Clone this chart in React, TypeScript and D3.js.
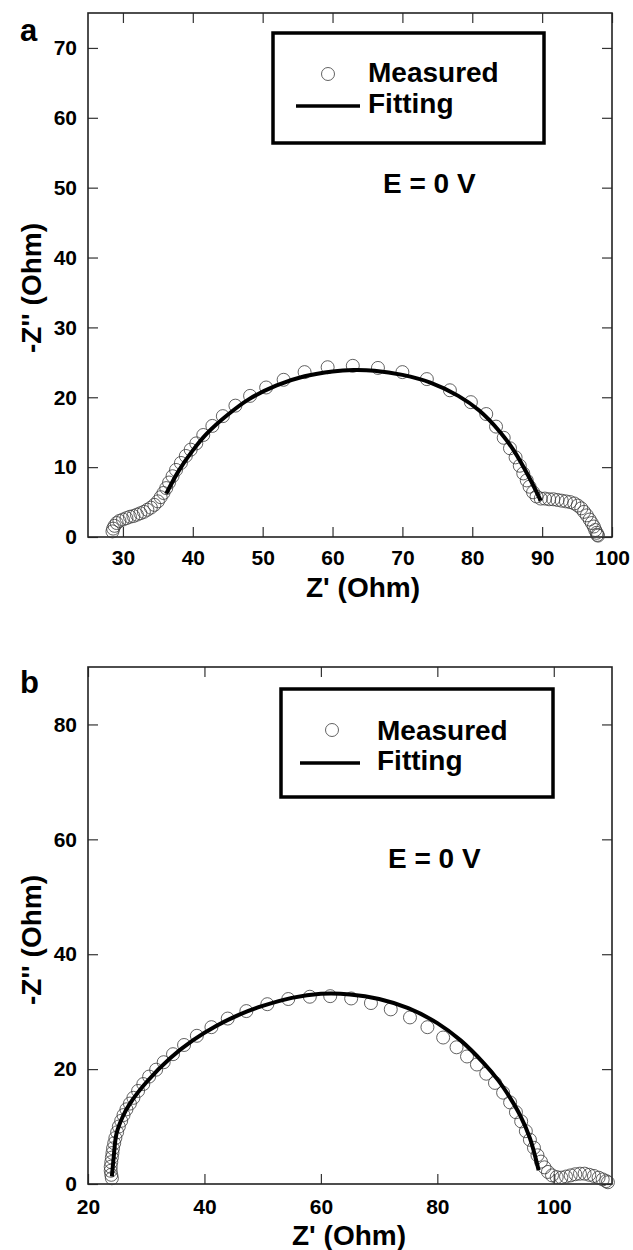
import { useRef, useEffect } from "react";
import * as d3 from "d3";

// Nyquist data: [Z' (Ohm), -Z'' (Ohm)]
const measuredA: [number, number][] = [
  [28.5, 0.8], [28.6, 1.2], [28.8, 1.6], [29.1, 2.0], [29.5, 2.3], [30, 2.5], [30.5, 2.7], [31, 2.9],
  [31.5, 3.0], [32, 3.2], [32.5, 3.4], [33, 3.6], [33.5, 3.9], [34, 4.2], [34.5, 4.6], [35, 5.1],
  [35.4, 5.7], [35.8, 6.3], [36.2, 7.0], [36.6, 7.8], [37.1, 8.7], [37.6, 9.6], [38.3, 10.6], [39, 11.6],
  [39.7, 12.5], [40.5, 13.4], [41.5, 14.6], [42.8, 15.9], [44.3, 17.3], [46.1, 18.8], [48.2, 20.2],
  [50.5, 21.4], [53, 22.5], [56, 23.6], [59.3, 24.3], [62.9, 24.5], [66.5, 24.2], [70, 23.6],
  [73.5, 22.6], [76.8, 21.0], [79.8, 19.3], [82, 17.6], [83.4, 15.8], [84.5, 14.2], [85.4, 12.7],
  [86.2, 11.4], [86.8, 10.2], [87.3, 9.1], [87.8, 8.1], [88.2, 7.2], [88.7, 6.4], [89.2, 5.8],
  [89.8, 5.5], [90.4, 5.5], [91, 5.4], [91.6, 5.4], [92.2, 5.3], [92.8, 5.2], [93.4, 5.1], [94, 5.0],
  [94.6, 4.8], [95.1, 4.5], [95.6, 4.1], [96, 3.6], [96.4, 3.1], [96.8, 2.5], [97.1, 2.0], [97.4, 1.5],
  [97.6, 1.0], [97.8, 0.6], [97.9, 0.3], [98.0, 0.2],
];

const fitA: [number, number][] = [
  [36.2, 6.2], [38, 9.5], [40, 12.4], [42, 14.8], [45, 17.5], [48, 19.7], [52, 21.7], [56, 23.0],
  [60, 23.7], [63, 23.9], [66, 23.8], [70, 23.2], [74, 22.1], [78, 20.2], [81, 18.1], [84, 15.0],
  [86, 12.3], [88, 8.8], [89.8, 5.2],
];

const measuredB: [number, number][] = [
  [24.1, 1.0], [24.0, 1.6], [23.9, 2.3], [23.9, 3.0], [24.0, 3.8], [24.1, 4.6], [24.2, 5.4], [24.3, 6.2],
  [24.5, 7.1], [24.7, 8.0], [25.0, 9.0], [25.3, 10.0], [25.7, 11.0], [26.1, 12.0], [26.6, 13.0],
  [27.2, 14.0], [27.8, 15.0], [28.6, 16.2], [29.5, 17.4], [30.5, 18.7], [31.7, 19.9], [33, 21.2],
  [34.6, 22.6], [36.5, 24.2], [38.7, 25.8], [41.2, 27.3], [44, 28.8], [47.2, 30.1], [50.8, 31.3],
  [54.4, 32.2], [58.1, 32.6], [61.6, 32.7], [65.2, 32.3], [68.6, 31.5], [72, 30.4], [75.3, 29.0],
  [78.3, 27.3], [81, 25.5], [83.3, 23.8], [85.1, 22.2], [86.8, 20.8], [88.4, 19.2], [89.9, 17.6],
  [91.3, 15.9], [92.5, 14.2], [93.5, 12.5], [94.4, 10.9], [95.2, 9.2], [95.9, 7.7], [96.6, 6.3],
  [97.2, 5.0], [97.8, 3.9], [98.4, 2.9], [99, 2.1], [99.7, 1.5], [100.5, 1.2], [101.3, 1.1],
  [102.1, 1.3], [102.9, 1.5], [103.7, 1.7], [104.5, 1.8], [105.3, 1.8], [106.1, 1.6], [106.9, 1.4],
  [107.7, 1.1], [108.4, 0.8], [109.0, 0.5], [109.3, 0.3],
];

const fitB: [number, number][] = [
  [24.1, 1.3], [24.4, 4.5], [24.9, 8.8], [26, 11.8], [27.2, 14], [30.1, 17.8], [34.1, 21.9], [38, 25],
  [42, 27.5], [46, 29.5], [50, 31], [55, 32.4], [60, 33.1], [65, 33.0], [70, 32.2], [75, 30.6],
  [80, 28.0], [84, 25.0], [88, 21.0], [90.5, 18.0], [92.5, 15.0], [94.2, 12.0], [95.9, 8.0], [97.4, 2.4],
];

const xTicksA = [30, 40, 50, 60, 70, 80, 90, 100];
const yTicksA = [0, 10, 20, 30, 40, 50, 60, 70];
const xTicksB = [20, 40, 60, 80, 100];
const yTicksB = [0, 20, 40, 60, 80];

const legendLabels = ["Measured", "Fitting"];
const potentialLabel = "E = 0 V";
const xTitle = "Z' (Ohm)";
const yTitle = "-Z'' (Ohm)";

const font = "'Liberation Sans', Arial, Helvetica, sans-serif";

function drawPanel(root: any, p: any) {
  const x = d3.scaleLinear().domain(p.xDomain).range([p.left, p.right]);
  const y = d3.scaleLinear().domain(p.yDomain).range([p.bottom, p.top]);
  const g = root.append("g");

  const styleAxis = (a: any) => {
    a.select(".domain").remove();
    a.selectAll(".tick line").attr("stroke", "#333").attr("stroke-width", 1.2);
    a.selectAll(".tick text")
      .attr("fill", "#000")
      .style("font-family", font)
      .style("font-size", "21px")
      .style("font-weight", "bold");
  };

  g.append("g")
    .attr("transform", `translate(0,${p.bottom})`)
    .call(d3.axisBottom(x).tickValues(p.xTicks).tickSizeInner(-10).tickSizeOuter(0).tickPadding(p.tickPad).tickFormat(d3.format("d")))
    .call(styleAxis);
  g.append("g")
    .attr("transform", `translate(0,${p.top})`)
    .call(d3.axisTop(x).tickValues(p.xTicks).tickSizeInner(-10).tickSizeOuter(0).tickFormat(() => ""))
    .call(styleAxis);
  g.append("g")
    .attr("transform", `translate(${p.left},0)`)
    .call(d3.axisLeft(y).tickValues(p.yTicks).tickSizeInner(-10).tickSizeOuter(0).tickPadding(11).tickFormat(d3.format("d")))
    .call(styleAxis);
  g.append("g")
    .attr("transform", `translate(${p.right},0)`)
    .call(d3.axisRight(y).tickValues(p.yTicks).tickSizeInner(-10).tickSizeOuter(0).tickFormat(() => ""))
    .call(styleAxis);

  g.append("rect")
    .attr("x", p.left)
    .attr("y", p.top)
    .attr("width", p.right - p.left)
    .attr("height", p.bottom - p.top)
    .attr("fill", "none")
    .attr("stroke", "#222")
    .attr("stroke-width", 1.6);

  g.append("g")
    .selectAll("circle")
    .data(p.measured)
    .join("circle")
    .attr("cx", (d: any) => x(d[0]))
    .attr("cy", (d: any) => y(d[1]))
    .attr("r", 6.5)
    .attr("fill", "none")
    .attr("stroke", "#3a3a3a")
    .attr("stroke-width", 0.8);

  const line = d3.line<[number, number]>()
    .x((d) => x(d[0]))
    .y((d) => y(d[1]))
    .curve(d3.curveCatmullRom);

  g.append("path")
    .attr("d", line(p.fit))
    .attr("fill", "none")
    .attr("stroke", "#000")
    .attr("stroke-width", 4);

  // legend
  const L = p.legend;
  g.append("rect")
    .attr("x", L.x)
    .attr("y", L.y)
    .attr("width", L.w)
    .attr("height", L.h)
    .attr("fill", "#fff")
    .attr("stroke", "#000")
    .attr("stroke-width", 3.5);
  g.append("circle")
    .attr("cx", L.cx)
    .attr("cy", L.cy)
    .attr("r", 6.5)
    .attr("fill", "none")
    .attr("stroke", "#3a3a3a")
    .attr("stroke-width", 0.8);
  g.append("line")
    .attr("x1", L.lx1)
    .attr("x2", L.lx2)
    .attr("y1", L.ly)
    .attr("y2", L.ly)
    .attr("stroke", "#000")
    .attr("stroke-width", 3.5);

  const text = (tx: number, ty: number, s: string, size: number, anchor = "start") =>
    g.append("text")
      .attr("x", tx)
      .attr("y", ty)
      .attr("text-anchor", anchor)
      .style("font-family", font)
      .style("font-size", `${size}px`)
      .style("font-weight", "bold")
      .text(s);

  text(L.tx, L.ty1, legendLabels[0], 28);
  text(L.tx, L.ty2, legendLabels[1], 28);
  text(p.eX, p.eY, potentialLabel, 28);
  text(p.xTitleX, p.xTitleY, xTitle, 28, "middle");
  text(p.letterX, p.letterY, p.letter, 31);

  g.append("text")
    .attr("transform", `translate(${p.yTitleX},${p.yTitleY}) rotate(-90)`)
    .attr("text-anchor", "middle")
    .style("font-family", font)
    .style("font-size", "28px")
    .style("font-weight", "bold")
    .text(yTitle);
}

export default function App() {
  const svgRef = useRef<SVGSVGElement>(null);

  useEffect(() => {
    const svg = d3.select(svgRef.current).html(null);

    drawPanel(svg, {
      top: 13, bottom: 537, left: 88, right: 612,
      xDomain: [25, 100], yDomain: [0, 75],
      xTicks: xTicksA, yTicks: yTicksA, tickPad: 13,
      measured: measuredA, fit: fitA,
      legend: { x: 273, y: 33, w: 271, h: 110, cx: 328, cy: 74, lx1: 296, lx2: 360, ly: 106, tx: 368, ty1: 82, ty2: 113 },
      eX: 383, eY: 193,
      xTitleX: 363, xTitleY: 597,
      yTitleX: 41, yTitleY: 288,
      letter: "a", letterX: 20, letterY: 41,
    });

    drawPanel(svg, {
      top: 667, bottom: 1184, left: 88, right: 612,
      xDomain: [20, 110], yDomain: [0, 90],
      xTicks: xTicksB, yTicks: yTicksB, tickPad: 15,
      measured: measuredB, fit: fitB,
      legend: { x: 281, y: 689, w: 272, h: 108, cx: 332, cy: 730, lx1: 300, lx2: 360, ly: 763, tx: 377, ty1: 740, ty2: 770 },
      eX: 388, eY: 868,
      xTitleX: 349, xTitleY: 1245,
      yTitleX: 41, yTitleY: 940,
      letter: "b", letterX: 20, letterY: 693,
    });
  }, []);

  return (
    <div>
      <svg
        ref={svgRef}
        width={633}
        height={1250}
        style={{ position: "absolute", left: 0, top: 0, background: "#fff" }}
      ></svg>
    </div>
  );
}
